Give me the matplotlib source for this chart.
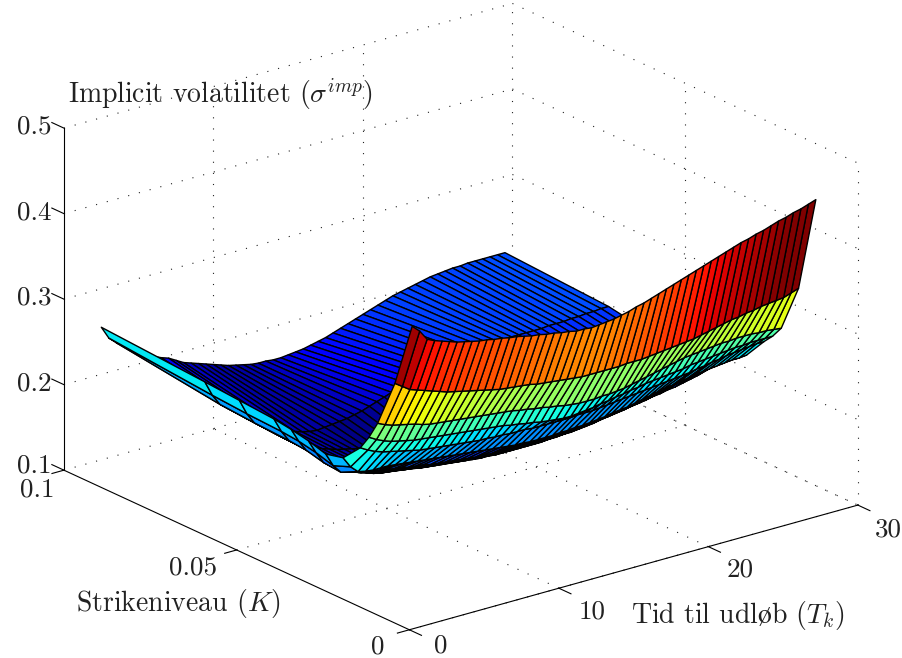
import numpy as np
import matplotlib
matplotlib.use("Agg")
import matplotlib.pyplot as plt

plt.rcParams['font.family'] = ['cmr10', 'DejaVu Serif']
plt.rcParams['mathtext.fontset'] = 'cm'
plt.rcParams['axes.formatter.use_mathtext'] = True

# tid til udloeb (aar) og strikes
tid = np.arange(2.5, 30, 0.5)
strikes = [0.01, 0.015, 0.02, 0.0225, 0.025, 0.03, 0.035, 0.04, 0.045, 0.05, 0.06, 0.07, 0.10]

vol_010 = [.424,.416,.404,.400,.397,.394,.391,.389,.387,.385,
           .384,.382,.381,.379,.378,.376,.374,.373,.371,.370,
           .368,.367,.365,.365,.364,.365,.366,.367,.369,.371,
           .374,.376,.379,.382,.385,.388,.391,.394,.397,.400,
           .403,.406,.409,.412,.415,.417,.420,.422,.425,.428,
           .430,.433,.435,.438,.441]
vol_015 = [.348,.342,.336,.333,.330,.327,.324,.321,.319,.317,
           .315,.313,.311,.309,.307,.306,.305,.304,.303,.301,
           .300,.299,.298,.297,.296,.295,.295,.295,.295,.295,
           .295,.296,.296,.296,.297,.298,.299,.300,.301,.302,
           .303,.305,.307,.309,.311,.313,.314,.316,.317,.319,
           .320,.321,.322,.325,.328]
vol_020 = [.292,.288,.285,.283,.281,.279,.276,.274,.273,.272,
           .271,.270,.269,.268,.267,.266,.265,.264,.263,.261,
           .260,.258,.257,.255,.254,.252,.251,.250,.250,.250,
           .251,.251,.252,.253,.255,.257,.259,.261,.263,.265,
           .267,.269,.270,.271,.272,.273,.274,.274,.275,.275,
           .275,.274,.274,.273,.272]
vol_0225 = [.271,.266,.262,.259,.257,.255,.253,.252,.251,.250,
            .249,.248,.247,.246,.245,.244,.243,.242,.241,.239,
            .238,.236,.235,.233,.232,.231,.230,.230,.231,.232,
            .233,.235,.236,.238,.239,.241,.242,.244,.245,.246,
            .247,.248,.249,.251,.252,.253,.254,.255,.256,.257,
            .257,.258,.258,.258,.258]
vol_025 = [.254,.249,.245,.242,.240,.238,.236,.234,.232,.231,
           .230,.229,.228,.227,.226,.225,.224,.224,.223,.223,
           .222,.222,.222,.221,.221,.221,.221,.221,.221,.222,
           .222,.222,.223,.224,.225,.226,.227,.228,.229,.230,
           .231,.232,.233,.234,.235,.237,.238,.240,.241,.243,
           .244,.245,.246,.247,.247]
vol_030 = [.233,.220,.212,.210,.209,.209,.209,.208,.207,.206,
           .205,.204,.203,.202,.201,.200,.199,.198,.197,.196,
           .195,.194,.193,.192,.192,.191,.191,.191,.191,.192,
           .192,.193,.193,.194,.195,.196,.198,.199,.200,.202,
           .204,.206,.208,.210,.211,.213,.214,.216,.217,.218,
           .219,.220,.221,.221,.222]
vol_035 = [.228,.212,.202,.200,.198,.196,.194,.192,.191,.189,
           .188,.186,.185,.184,.182,.181,.180,.179,.178,.177,
           .176,.176,.175,.175,.174,.174,.173,.173,.173,.173,
           .173,.174,.174,.175,.176,.177,.178,.180,.181,.182,
           .183,.185,.186,.188,.190,.192,.195,.197,.200,.202,
           .203,.204,.205,.207,.208]
vol_040 = [.234,.218,.204,.197,.191,.186,.183,.180,.178,.176,
           .174,.172,.171,.169,.168,.166,.165,.164,.163,.162,
           .161,.160,.159,.158,.158,.157,.157,.157,.157,.157,
           .157,.157,.158,.158,.159,.159,.160,.161,.162,.164,
           .165,.167,.168,.170,.171,.172,.174,.175,.177,.178,
           .180,.182,.184,.187,.190]
vol_045 = [.238,.222,.209,.202,.195,.188,.181,.175,.170,.166,
           .163,.160,.158,.157,.156,.155,.154,.153,.152,.151,
           .151,.151,.150,.150,.150,.150,.150,.150,.151,.151,
           .152,.153,.154,.155,.156,.157,.158,.159,.160,.162,
           .163,.165,.166,.168,.169,.171,.172,.173,.175,.176,
           .177,.178,.180,.181,.183]
vol_050 = [.241,.224,.211,.204,.197,.190,.184,.178,.172,.167,
           .163,.160,.157,.154,.152,.150,.149,.148,.147,.146,
           .146,.146,.146,.146,.147,.147,.148,.148,.149,.150,
           .151,.152,.153,.155,.156,.158,.159,.161,.163,.165,
           .167,.168,.170,.172,.173,.175,.176,.177,.178,.180,
           .181,.182,.183,.184,.186]
vol_060 = [.244,.226,.213,.206,.199,.192,.185,.179,.174,.169,
           .165,.161,.158,.155,.153,.151,.149,.148,.148,.149,
           .150,.151,.153,.155,.157,.160,.162,.165,.168,.171,
           .174,.177,.180,.182,.184,.186,.188,.189,.190,.191,
           .192,.192,.193,.193,.194,.194,.195,.195,.195,.196,
           .196,.196,.197,.197,.197]
vol_070 = [.247,.229,.216,.209,.202,.195,.188,.182,.176,.171,
           .167,.163,.160,.157,.155,.154,.155,.156,.157,.158,
           .160,.162,.165,.168,.171,.174,.177,.180,.182,.185,
           .187,.189,.191,.193,.195,.197,.198,.199,.200,.200,
           .200,.200,.200,.200,.200,.200,.201,.201,.201,.202,
           .202,.203,.203,.204,.204]
vol_100 = [.255,.240,.232,.226,.219,.213,.208,.204,.200,.197,
           .192,.187,.184,.181,.178,.175,.172,.169,.167,.165,
           .163,.162,.162,.161,.161,.162,.163,.164,.166,.168,
           .170,.173,.176,.179,.182,.185,.188,.191,.194,.197,
           .199,.201,.203,.205,.207,.208,.209,.210,.210,.211,
           .211,.211,.211,.211,.211]

tid_ticks = [0, 10, 20, 30]
strike_ticks = [0, 0.05, 0.1]
vol_ticks = [0.1, 0.2, 0.3, 0.4, 0.5]

W, H = 903, 658
fig = plt.figure(figsize=(W / 100, H / 100), dpi=100)
ax = fig.add_axes([123 / W, 3.5 / H, 658 / W, 1], projection='3d', proj_type='ortho',
                  computed_zorder=False)
ax.view_init(elev=21, azim=-127.8)
ax.set_box_aspect((567, 563, 366), zoom=1.298)
ax.set_axis_off()
ax.set_xlim(0, 30)
ax.set_ylim(0, 0.1)
ax.set_zlim(0.1, 0.5)

# prikket gitter paa bagvaeggene og bunden
def grid(xs, ys, zs):
    ax.plot(xs, ys, zs, color='#222222', lw=0.8, ls=(0, (1, 9)), zorder=1, clip_on=False)

for z in vol_ticks:
    grid([0, 30], [0.1, 0.1], [z, z])
    grid([30, 30], [0.1, 0], [z, z])
for t in tid_ticks[1:]:
    grid([t, t], [0, 0.1], [0.1, 0.1])
    grid([t, t], [0.1, 0.1], [0.1, 0.5])
for k in strike_ticks[:2]:
    grid([0, 30], [k, k], [0.1, 0.1])
    grid([30, 30], [k, k], [0.1, 0.5])

# overfladen, farve fra hjoernet med laveste indeks som i matlab
Z = np.array([vol_010, vol_015, vol_020, vol_0225, vol_025, vol_030, vol_035,
              vol_040, vol_045, vol_050, vol_060, vol_070, vol_100])
X, Y = np.meshgrid(tid, strikes)
colors = plt.cm.jet(plt.Normalize(0.146, 0.432)(Z))
surf = ax.plot_surface(X, Y, Z, facecolors=colors, rstride=1, cstride=1, shade=False,
                       zorder=2, antialiased=True)
surf.set_edgecolor('black')
surf.set_linewidth(1.0)
surf.set_clip_on(False)

# akser
ax.plot([0, 30], [0, 0], [0.1, 0.1], color='black', lw=0.8, zorder=3, clip_on=False)
ax.plot([0, 0], [0, 0.1], [0.1, 0.1], color='black', lw=0.8, zorder=3, clip_on=False)
ax.plot([0, 0], [0.1, 0.1], [0.1, 0.5], color='black', lw=0.8, zorder=3, clip_on=False)
for t in tid_ticks:
    ax.plot([t, t], [0, -0.0035], [0.1, 0.1], color='black', lw=0.8, zorder=3, clip_on=False)
for k in strike_ticks:
    ax.plot([0, -0.8], [k, k], [0.1, 0.1], color='black', lw=0.8, zorder=3, clip_on=False)
for z in vol_ticks:
    ax.plot([0, 0], [0.1, 0.1035], [z, z], color='black', lw=0.8, zorder=3, clip_on=False)

def label(x, y, s, ha='center', size=19.5):
    fig.text(x / W, 1 - y / H, s, ha=ha, va='center', fontsize=size, color='#222222')

for s, y in zip(['0.5', '0.4', '0.3', '0.2', '0.1'], [127, 213, 298, 384, 466]):
    label(34, y, s)
for s, x, y in zip(['0.1', '0.05', '0'], [37, 193, 378], [490, 568, 647]):
    label(x, y, s)
for s, x, y in zip(['0', '10', '20', '30'], [441, 592, 740, 888], [646, 612, 570, 530]):
    label(x, y, s)

label(68, 95, r'Implicit volatilitet ($\sigma^{imp}$)', ha='left', size=20)
label(76, 603, r'Strikeniveau ($K$)', ha='left', size=20)
label(631, 616, r'Tid til udl$\mathrm{\o}$b ($T_k$)', ha='left', size=20)

fig.savefig('out.png', dpi=100)
